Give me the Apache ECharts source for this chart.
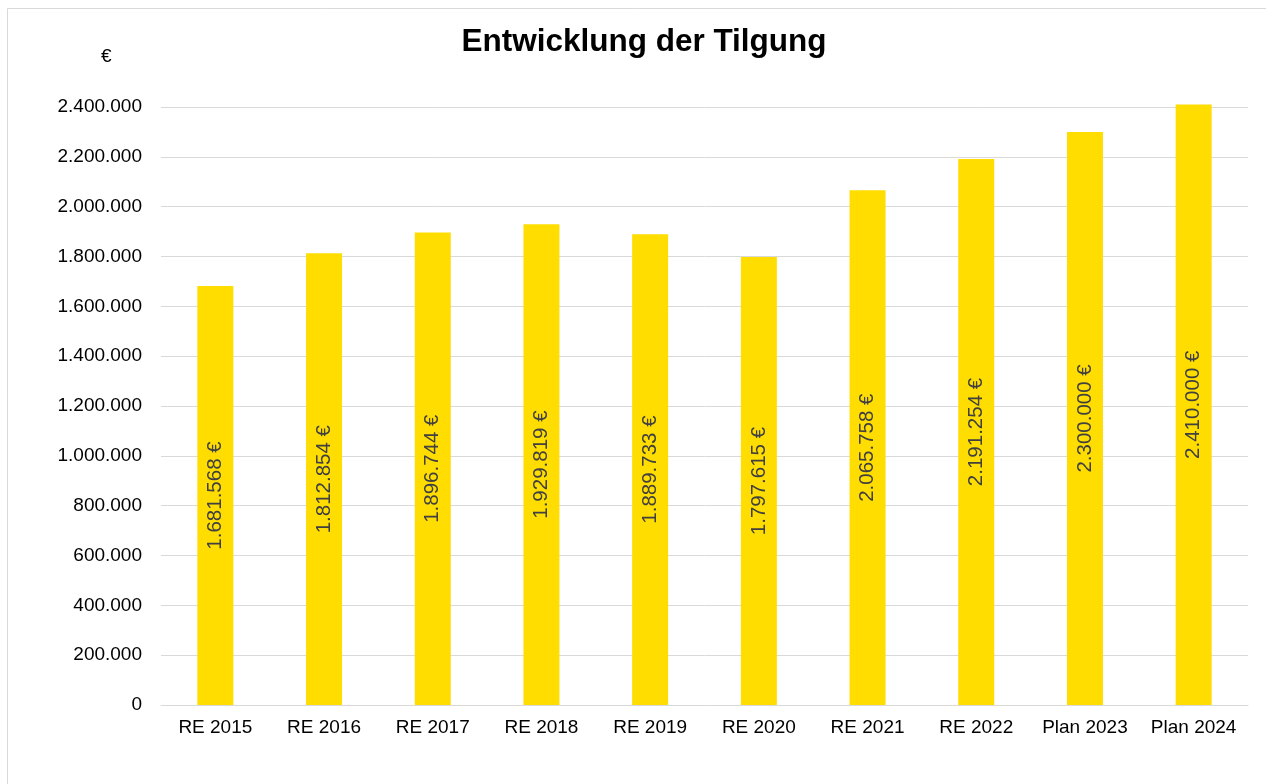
<!DOCTYPE html>
<html><head><meta charset="utf-8">
<script src="https://cdn.jsdelivr.net/npm/echarts@6/dist/echarts.min.js"></script>
<style>html,body{margin:0;padding:0;background:#fff}#c{width:1266px;height:784px}</style>
</head><body><div id="c"></div>
<script>
const categories = ['RE 2015','RE 2016','RE 2017','RE 2018','RE 2019','RE 2020','RE 2021','RE 2022','Plan 2023','Plan 2024'];
const values = [1681568,1812854,1896744,1929819,1889733,1797615,2065758,2191254,2300000,2410000];
const fmt = v => String(Math.round(v)).replace(/\B(?=(\d{3})+(?!\d))/g, '.');
const chart = echarts.init(document.getElementById('c'), null, {renderer:'canvas'});
chart.setOption({
  animation:false,
  backgroundColor:'#fff',
  title:{text:'Entwicklung der Tilgung',left:639,top:21,textAlign:'center',
    textStyle:{fontFamily:'Liberation Sans, Arial',fontSize:31.5,fontWeight:'bold',color:'#000'}},
  graphic:[
    {type:'rect',shape:{x:7.5,y:8.5,width:1300,height:820},style:{fill:'none',stroke:'#d9d9d9',lineWidth:1},silent:true},
    {type:'text',left:101,top:47,style:{text:'€',fontFamily:'Liberation Sans, Arial',fontSize:19,fill:'#000'}}
  ],
  grid:{left:161,right:18,top:107,bottom:79,containLabel:false},
  xAxis:{type:'category',data:categories,
    axisLine:{show:true,lineStyle:{color:'#d9d9d9'}},axisTick:{show:false},
    axisLabel:{interval:0,color:'#000',fontFamily:'Liberation Sans, Arial',fontSize:19,margin:13}},
  yAxis:{type:'value',min:0,max:2400000,interval:200000,
    axisLine:{show:false},axisTick:{show:false},
    splitLine:{lineStyle:{color:'#d9d9d9'}},
    axisLabel:{color:'#000',fontFamily:'Liberation Sans, Arial',fontSize:19,margin:19,formatter:v=>fmt(v)}},
  series:[{type:'bar',data:values,barWidth:36,clip:false,itemStyle:{color:'#FFDD00'},
    label:{show:true,position:'inside',rotate:90,color:'#404040',
      fontFamily:'Liberation Sans, Arial',fontSize:20.5,formatter:p=>fmt(p.value)+' €'}}]
});
</script></body></html>
